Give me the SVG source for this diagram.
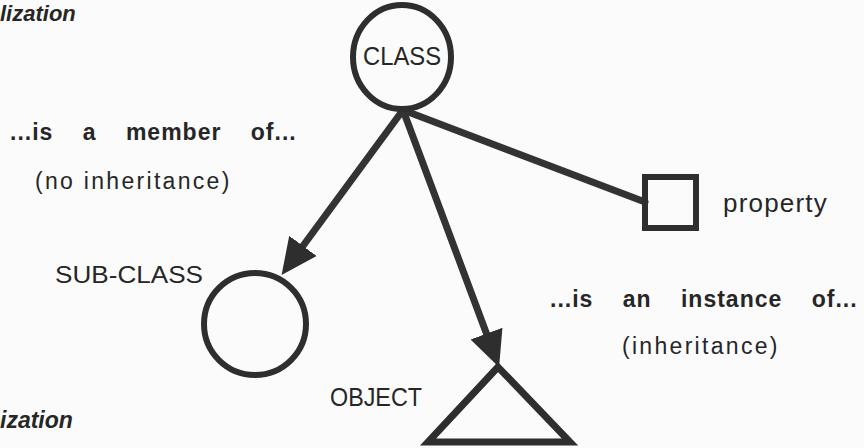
<svg xmlns="http://www.w3.org/2000/svg" width="864" height="448" viewBox="0 0 864 448">
<style>
.t{font-family:"Liberation Sans",Arial,sans-serif;fill:#262626}
.it{font-style:italic;font-weight:bold}
.lbl{font-size:23px;letter-spacing:1px;word-spacing:22px;font-weight:bold}
.sub{font-size:23px;letter-spacing:2.3px}
.shape{fill:none;stroke:#2e2e2e}
.conn{stroke:#333;stroke-width:7;stroke-linecap:round;fill:none}
</style>
<defs>
<marker id="ah" markerUnits="userSpaceOnUse" markerWidth="40" markerHeight="40" viewBox="0 -20 40 40" refX="10" refY="0" orient="auto">
<path d="M0,-17 L36,0 L0,17 Z" fill="#2e2e2e"/>
</marker>
</defs>
<rect width="864" height="448" fill="#fbfbfb"/>
<text class="t it" x="0" y="21" font-size="22">lization</text>
<text class="t it" x="0" y="428" font-size="23">ization</text>
<g id="connectors">
<line class="conn" x1="403" y1="110" x2="645" y2="202"/>
<line class="conn" x1="403" y1="110" x2="297" y2="254" marker-end="url(#ah)"/>
<line class="conn" x1="403" y1="110" x2="490" y2="343" marker-end="url(#ah)"/>
</g>
<g id="class">
<ellipse class="shape" cx="402" cy="57" rx="49" ry="52" stroke-width="6"/>
<text class="t" x="363" y="65" font-size="25" textLength="78" lengthAdjust="spacingAndGlyphs">CLASS</text>
</g>
<g id="property">
<rect class="shape" x="645" y="177" width="51" height="51" stroke-width="6"/>
<text class="t" x="723" y="212" font-size="26" letter-spacing="1.2">property</text>
</g>
<g id="subclass">
<ellipse class="shape" cx="255" cy="324" rx="51" ry="51" stroke-width="6"/>
<text class="t" x="55" y="283" font-size="23" textLength="148" lengthAdjust="spacingAndGlyphs">SUB-CLASS</text>
</g>
<g id="object">
<polygon class="shape" points="498,367 428,442 570,442" stroke-width="7" stroke-linejoin="miter"/>
<text class="t" x="330" y="406" font-size="25" textLength="92" lengthAdjust="spacingAndGlyphs">OBJECT</text>
</g>
<text class="t lbl" x="10" y="140">...is a member of...</text>
<text class="t sub" x="35" y="189">(no inheritance)</text>
<text class="t lbl" x="550" y="307">...is an instance of...</text>
<text class="t sub" x="622" y="354">(inheritance)</text>
</svg>
